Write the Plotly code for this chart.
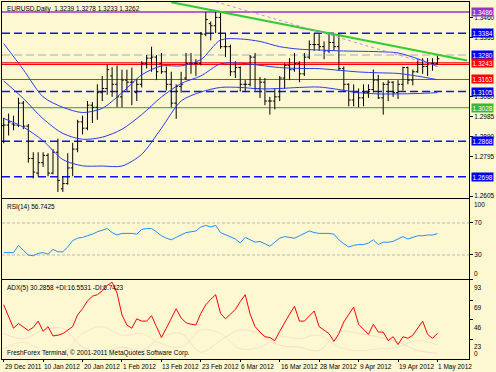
import plotly.graph_objects as go

# ---------------- data ----------------
dates = ["29 Dec 2011", "30 Dec 2011", "2 Jan 2012", "3 Jan 2012", "4 Jan 2012", "5 Jan 2012", "6 Jan 2012",
         "9 Jan 2012", "10 Jan 2012", "11 Jan 2012", "12 Jan 2012", "13 Jan 2012", "16 Jan 2012", "17 Jan 2012",
         "18 Jan 2012", "19 Jan 2012", "20 Jan 2012", "23 Jan 2012", "24 Jan 2012", "25 Jan 2012", "26 Jan 2012",
         "27 Jan 2012", "30 Jan 2012", "31 Jan 2012", "1 Feb 2012", "2 Feb 2012", "3 Feb 2012", "6 Feb 2012",
         "7 Feb 2012", "8 Feb 2012", "9 Feb 2012", "10 Feb 2012", "13 Feb 2012", "14 Feb 2012", "15 Feb 2012",
         "16 Feb 2012", "17 Feb 2012", "20 Feb 2012", "21 Feb 2012", "22 Feb 2012", "23 Feb 2012", "24 Feb 2012",
         "27 Feb 2012", "28 Feb 2012", "29 Feb 2012", "1 Mar 2012", "2 Mar 2012", "5 Mar 2012", "6 Mar 2012",
         "7 Mar 2012", "8 Mar 2012", "9 Mar 2012", "12 Mar 2012", "13 Mar 2012", "14 Mar 2012", "15 Mar 2012",
         "16 Mar 2012", "19 Mar 2012", "20 Mar 2012", "21 Mar 2012", "22 Mar 2012", "23 Mar 2012", "26 Mar 2012",
         "27 Mar 2012", "28 Mar 2012", "29 Mar 2012", "30 Mar 2012", "2 Apr 2012", "3 Apr 2012", "4 Apr 2012",
         "5 Apr 2012", "6 Apr 2012", "9 Apr 2012", "10 Apr 2012", "11 Apr 2012", "12 Apr 2012", "13 Apr 2012",
         "16 Apr 2012", "17 Apr 2012", "18 Apr 2012", "19 Apr 2012", "20 Apr 2012", "23 Apr 2012", "24 Apr 2012",
         "25 Apr 2012", "26 Apr 2012", "27 Apr 2012", "30 Apr 2012", "1 May 2012"]

open_ = [1.2942, 1.2945, 1.2950, 1.2945, 1.3050, 1.2940, 1.2785, 1.2715, 1.2765, 1.2800, 1.2715, 1.2815, 1.2640,
         1.2665, 1.2740, 1.2830, 1.2960, 1.2930, 1.3040, 1.3030, 1.3100, 1.3120, 1.3180, 1.3140, 1.3080, 1.3160,
         1.3150, 1.3100, 1.3140, 1.3240, 1.3265, 1.3270, 1.3240, 1.3200, 1.3140, 1.3050, 1.3130, 1.3170, 1.3240,
         1.3240, 1.3240, 1.3380, 1.3430, 1.3420, 1.3460, 1.3320, 1.3320, 1.3200, 1.3220, 1.3140, 1.3140, 1.3270,
         1.3120, 1.3150, 1.3060, 1.3060, 1.3080, 1.3170, 1.3230, 1.3210, 1.3240, 1.3190, 1.3270, 1.3330, 1.3330,
         1.3320, 1.3300, 1.3340, 1.3320, 1.3215, 1.3140, 1.3065, 1.3100, 1.3075, 1.3100, 1.3115, 1.3160, 1.3075,
         1.3140, 1.3150, 1.3100, 1.3140, 1.3220, 1.3160, 1.3200, 1.3235, 1.3225, 1.3240, 1.3239]
high = [1.2980, 1.3000, 1.2990, 1.3075, 1.3060, 1.2950, 1.2815, 1.2815, 1.2815, 1.2810, 1.2830, 1.2880, 1.2700,
        1.2810, 1.2860, 1.2970, 1.2990, 1.3060, 1.3055, 1.3140, 1.3180, 1.3235, 1.3222, 1.3230, 1.3210, 1.3210,
        1.3220, 1.3165, 1.3250, 1.3280, 1.3320, 1.3280, 1.3290, 1.3225, 1.3200, 1.3140, 1.3200, 1.3290, 1.3290,
        1.3260, 1.3390, 1.3485, 1.3440, 1.3486, 1.3487, 1.3385, 1.3330, 1.3250, 1.3225, 1.3160, 1.3280, 1.3290,
        1.3175, 1.3170, 1.3080, 1.3120, 1.3180, 1.3240, 1.3265, 1.3290, 1.3250, 1.3290, 1.3350, 1.3385, 1.3380,
        1.3345, 1.3385, 1.3380, 1.3385, 1.3225, 1.3145, 1.3140, 1.3120, 1.3140, 1.3140, 1.3210, 1.3185, 1.3150,
        1.3160, 1.3155, 1.3160, 1.3225, 1.3225, 1.3210, 1.3260, 1.3265, 1.3265, 1.3265, 1.3278]
low = [1.2858, 1.2895, 1.2920, 1.2935, 1.2925, 1.2765, 1.2690, 1.2700, 1.2745, 1.2700, 1.2710, 1.2625, 1.2625,
       1.2660, 1.2700, 1.2815, 1.2900, 1.2920, 1.2955, 1.2970, 1.3060, 1.3090, 1.3080, 1.3030, 1.3030, 1.3110,
       1.3040, 1.3060, 1.3125, 1.3215, 1.3200, 1.3160, 1.3190, 1.3110, 1.3030, 1.2975, 1.3100, 1.3160, 1.3190,
       1.3180, 1.3230, 1.3370, 1.3350, 1.3385, 1.3310, 1.3270, 1.3180, 1.3170, 1.3105, 1.3105, 1.3130, 1.3110,
       1.3075, 1.3040, 1.2995, 1.3020, 1.3060, 1.3120, 1.3160, 1.3200, 1.3150, 1.3180, 1.3260, 1.3300, 1.3300,
       1.3260, 1.3290, 1.3300, 1.3205, 1.3105, 1.3035, 1.3035, 1.3030, 1.3035, 1.3075, 1.3100, 1.3070, 1.2995,
       1.3060, 1.3080, 1.3070, 1.3110, 1.3140, 1.3135, 1.3195, 1.3190, 1.3180, 1.3205, 1.3233]
close = [1.2945, 1.2960, 1.2945, 1.3050, 1.2940, 1.2785, 1.2720, 1.2765, 1.2800, 1.2715, 1.2815, 1.2680, 1.2665,
         1.2740, 1.2830, 1.2960, 1.2930, 1.3040, 1.3030, 1.3100, 1.3120, 1.3210, 1.3140, 1.3080, 1.3160, 1.3150,
         1.3150, 1.3140, 1.3240, 1.3265, 1.3270, 1.3200, 1.3200, 1.3140, 1.3050, 1.3130, 1.3140, 1.3240, 1.3240,
         1.3240, 1.3380, 1.3450, 1.3420, 1.3460, 1.3320, 1.3320, 1.3200, 1.3220, 1.3140, 1.3140, 1.3270, 1.3120,
         1.3150, 1.3060, 1.3060, 1.3080, 1.3170, 1.3230, 1.3210, 1.3240, 1.3190, 1.3270, 1.3330, 1.3330, 1.3320,
         1.3300, 1.3340, 1.3320, 1.3215, 1.3140, 1.3065, 1.3100, 1.3075, 1.3100, 1.3115, 1.3160, 1.3075, 1.3140,
         1.3150, 1.3100, 1.3140, 1.3220, 1.3160, 1.3200, 1.3235, 1.3225, 1.3240, 1.3240, 1.3262]

# Bollinger bands read at every 4th bar
bb_idx = [0, 4, 8, 12, 16, 20, 24, 28, 32, 36, 40, 44, 48, 52, 56, 60, 64, 68, 72, 76, 80, 84, 88]
bb_upper = [1.3335, 1.3210, 1.3080, 1.3030, 1.3005, 1.3025, 1.3100, 1.3185, 1.3228, 1.3228, 1.3258, 1.3352,
            1.3357, 1.3345, 1.3320, 1.3308, 1.3304, 1.3300, 1.3298, 1.3296, 1.3290, 1.3262, 1.3225]
bb_mid = [1.3156, 1.3072, 1.2975, 1.2905, 1.2877, 1.2887, 1.2925, 1.2995, 1.3079, 1.3144, 1.3180, 1.3238,
          1.3241, 1.3231, 1.3220, 1.3216, 1.3215, 1.3207, 1.3199, 1.3195, 1.3192, 1.3179, 1.3162]
bb_lower = [1.2977, 1.2935, 1.2870, 1.2780, 1.2750, 1.2749, 1.2749, 1.2805, 1.2930, 1.3060, 1.3103, 1.3125,
            1.3125, 1.3118, 1.3120, 1.3125, 1.3127, 1.3115, 1.3100, 1.3094, 1.3094, 1.3096, 1.3100]

# horizontal levels
level_purple = 1.3486
levels_blue_dash = [1.3384, 1.3105, 1.2868, 1.2698]
level_gray_dash = 1.3280
levels_red_thick = [1.3243, 1.3235]
level_red = 1.3163
level_green = 1.3028

# trend lines (bar index, price)
green_trend_x = [34, 94]
green_trend_y = [1.3533, 1.3254]
violet_trend_x = [43, 88]
violet_trend_y = [1.3535, 1.3226]

price_ticks = [1.2605, 1.2795, 1.2890, 1.2985, 1.3080, 1.3365, 1.3460]

rsi = [33, 33, 33, 42, 36, 30, 29, 32, 33, 31, 37, 34, 34, 40, 48, 51, 52, 54, 56, 59, 61, 63, 58, 55, 57, 57,
       57, 56, 62, 63, 63, 59, 54, 51, 49, 52, 55, 58, 59, 60, 65, 67, 65, 67, 58, 55, 53, 50, 45, 52, 49, 46,
       47, 44, 41, 46, 51, 53, 52, 51, 54, 57, 60, 58, 57, 57, 57, 56, 49, 44, 40, 42, 43, 43, 45, 49, 43, 46,
       46, 47, 50, 53, 50, 52, 54, 54, 55, 55, 56.7425]

adx = [63.8, 50.1, 36.3, 41.8, 38.1, 33.5, 37.2, 44.6, 32.6, 38.1, 27.1, 28.0, 29.9, 33.5, 38.1, 51.9, 59.2,
       68.4, 73.9, 75.7, 80.3, 86.7, 90.4, 77.6, 51.9, 40.0, 36.3, 47.3, 44.6, 44.6, 51.0, 38.1, 25.3, 36.3,
       48.2, 59.2, 48.2, 42.7, 40.9, 40.0, 53.7, 63.8, 70.2, 75.7, 53.7, 47.3, 52.8, 58.3, 67.5, 75.7, 52.8,
       38.1, 31.7, 26.2, 25.3, 21.6, 32.6, 43.6, 52.8, 62.0, 44.6, 44.6, 50.1, 56.5, 38.1, 34.5, 29.9, 20.7,
       29.9, 43.6, 52.8, 61.1, 40.9, 34.5, 29.0, 40.9, 31.7, 31.7, 21.6, 26.2, 17.0, 26.2, 24.4, 28.0, 36.3,
       44.6, 29.0, 24.4, 30.29]
di_idx = [0, 4, 8, 12, 16, 20, 24, 28, 32, 36, 40, 44, 48, 52, 56, 60, 64, 68, 72, 76, 80, 84, 88]
plus_di = [12, 20, 10, 8, 30, 38, 28, 30, 18, 14, 34, 30, 12, 14, 26, 24, 28, 14, 10, 12, 14, 22, 16.55]
minus_di = [30, 24, 34, 36, 14, 8, 14, 10, 26, 30, 8, 22, 34, 30, 16, 14, 10, 32, 30, 26, 20, 10, 6.74]

# ---------------- figure ----------------
BG = "#fdf8d2"
FONT = "Liberation Sans"
FS = 6.5
idx = list(range(len(dates)))
XR = [-0.34, 94.4]

fig = go.Figure()

fig.add_trace(go.Ohlc(x=idx, open=open_, high=high, low=low, close=close,
                      increasing=dict(line=dict(color="#000000", width=1)),
                      decreasing=dict(line=dict(color="#000000", width=1)),
                      tickwidth=0.4, xaxis="x", yaxis="y", showlegend=False, hoverinfo="skip"))

for series in (bb_upper, bb_mid, bb_lower):
    fig.add_trace(go.Scatter(x=bb_idx, y=series, mode="lines",
                             line=dict(color="#2a3cf0", width=1, shape="spline", smoothing=0.8),
                             xaxis="x", yaxis="y", showlegend=False, hoverinfo="skip"))

fig.add_trace(go.Scatter(x=green_trend_x, y=green_trend_y, mode="lines",
                         line=dict(color="#33cc33", width=2), xaxis="x", yaxis="y",
                         showlegend=False, hoverinfo="skip"))
fig.add_trace(go.Scatter(x=violet_trend_x, y=violet_trend_y, mode="lines",
                         line=dict(color="#cc88ee", width=1, dash="dot"), xaxis="x", yaxis="y",
                         showlegend=False, hoverinfo="skip"))

fig.add_trace(go.Scatter(x=idx, y=rsi, mode="lines", line=dict(color="#1e90ff", width=1),
                         xaxis="x2", yaxis="y2", showlegend=False, hoverinfo="skip"))

fig.add_trace(go.Scatter(x=di_idx, y=plus_di, mode="lines",
                         line=dict(color="#f6e4c8", width=1, shape="spline"),
                         xaxis="x3", yaxis="y3", showlegend=False, hoverinfo="skip"))
fig.add_trace(go.Scatter(x=di_idx, y=minus_di, mode="lines",
                         line=dict(color="#f5dccf", width=1, shape="spline"),
                         xaxis="x3", yaxis="y3", showlegend=False, hoverinfo="skip"))
fig.add_trace(go.Scatter(x=idx, y=adx, mode="lines", line=dict(color="#ff0000", width=1),
                         xaxis="x3", yaxis="y3", showlegend=False, hoverinfo="skip"))

shapes = []


def hline(y, color, width=1, dash="solid"):
    shapes.append(dict(type="line", xref="x domain", yref="y", x0=0, x1=1, y0=y, y1=y,
                       line=dict(color=color, width=width, dash=dash), layer="below"))


hline(level_purple, "#9933cc", 1.5)
for v in levels_blue_dash:
    hline(v, "#1010f0", 1.5, "8px,4px")
hline(level_gray_dash, "#c4c4c4", 1.5, "8px,4px")
for v in levels_red_thick:
    hline(v, "#ff0000", 1.2)
hline(level_red, "#ff2020", 1)
hline(level_green, "#33cc33", 1.2)

for v in (30, 70):
    shapes.append(dict(type="line", xref="x2 domain", yref="y2", x0=0, x1=1, y0=v, y1=v,
                       line=dict(color="#b8b8b8", width=1, dash="3px,2px"), layer="below"))

annotations = []


def label_box(y, text, color):
    annotations.append(dict(xref="paper", yref="y", x=1, y=y, xanchor="left", yanchor="middle",
                            xshift=2, text=text, showarrow=False,
                            font=dict(family=FONT, size=FS, color="#ffffff"),
                            bgcolor=color, borderpad=0.5))


label_box(level_purple, "1.3486", "#9933cc")
label_box(levels_blue_dash[0], "1.3384", "#0000ee")
label_box(level_gray_dash, "1.3280", "#0000ee")
label_box(levels_red_thick[0], "1.3243", "#ff0000")
label_box(level_red, "1.3163", "#ff0000")
label_box(levels_blue_dash[1], "1.3105", "#0000ee")
label_box(level_green, "1.3028", "#33bb33")
label_box(levels_blue_dash[2], "1.2868", "#0000ee")
label_box(levels_blue_dash[3], "1.2698", "#0000ee")

txt = dict(family=FONT, size=FS, color="#000000")
annotations.append(dict(xref="paper", yref="paper", x=0, y=1, xanchor="left", yanchor="top",
                        xshift=3, yshift=-1, showarrow=False, font=txt,
                        text="EURUSD,Daily  1.3239 1.3278 1.3233 1.3262"))
annotations.append(dict(xref="paper", yref="y2 domain", x=0, y=1, xanchor="left", yanchor="top",
                        xshift=3, yshift=-2, showarrow=False, font=txt, text="RSI(14) 56.7425"))
annotations.append(dict(xref="paper", yref="y3 domain", x=0, y=1, xanchor="left", yanchor="top",
                        xshift=3, yshift=-2, showarrow=False, font=txt,
                        text="ADX(5) 30.2858 +DI:16.5531 -DI:6.7423"))
annotations.append(dict(xref="paper", yref="paper", x=0, y=0, xanchor="left", yanchor="bottom",
                        xshift=3, yshift=0, showarrow=False, font=txt,
                        text="FreshForex Terminal, © 2001-2011 MetaQuotes Software Corp."))

# date labels (left aligned like MetaTrader)
for i in idx[::8]:
    annotations.append(dict(xref="x3", yref="paper", x=i, y=0, xanchor="left", yanchor="top",
                            xshift=-1, yshift=-2, showarrow=False, font=txt, text=dates[i]))

# RSI edge labels
annotations.append(dict(xref="paper", yref="y2", x=1, y=100, xanchor="left", yanchor="top",
                        xshift=3, showarrow=False, font=txt, text="100"))
annotations.append(dict(xref="paper", yref="y2", x=1, y=0, xanchor="left", yanchor="bottom",
                        xshift=3, showarrow=False, font=txt, text="0"))
# ADX labels (placed just below their ticks)
for v in (93, 69, 46, 23):
    annotations.append(dict(xref="paper", yref="y3", x=1, y=v, xanchor="left", yanchor="top",
                            xshift=3, yshift=-2, showarrow=False, font=txt, text=str(v)))
annotations.append(dict(xref="paper", yref="y3", x=1, y=0, xanchor="left", yanchor="bottom",
                        xshift=3, showarrow=False, font=txt, text="0"))

axis_common = dict(showline=True, linecolor="#000000", linewidth=1, mirror=True,
                   showgrid=False, zeroline=False)

fig.update_layout(
    width=496, height=372,
    margin=dict(l=1, r=25, t=2, b=13),
    paper_bgcolor=BG, plot_bgcolor=BG,
    font=dict(family=FONT, size=FS, color="#000000"),
    showlegend=False,
    xaxis=dict(range=XR, anchor="y", showticklabels=False, ticks="", rangeslider=dict(visible=False),
               **axis_common),
    xaxis2=dict(range=XR, anchor="y2", matches="x", showticklabels=False, ticks="", **axis_common),
    xaxis3=dict(range=XR, anchor="y3", matches="x", showticklabels=False, ticks="outside", ticklen=2,
                tickvals=idx[::8], tickcolor="#000000", **axis_common),
    yaxis=dict(domain=[0.451, 1.0], range=[1.25961, 1.35337], side="right", tickvals=price_ticks,
               tickformat=".4f", ticks="outside", ticklen=3, tickcolor="#000000",
               tickfont=dict(family=FONT, size=FS), **axis_common),
    yaxis2=dict(domain=[0.2241, 0.4482], range=[0, 100], side="right", tickvals=[30, 70],
                ticks="outside", ticklen=3, tickcolor="#000000",
                tickfont=dict(family=FONT, size=FS), **axis_common),
    yaxis3=dict(domain=[0.0, 0.2213], range=[0, 93], side="right", tickvals=[23, 46, 69, 93],
                showticklabels=False, ticks="outside", ticklen=3, tickcolor="#000000",
                **axis_common),
    shapes=shapes,
    annotations=annotations,
)

fig.write_html("out.html", config={"displayModeBar": False},
               post_script="document.body.style.margin='0';document.body.style.padding='0';")
